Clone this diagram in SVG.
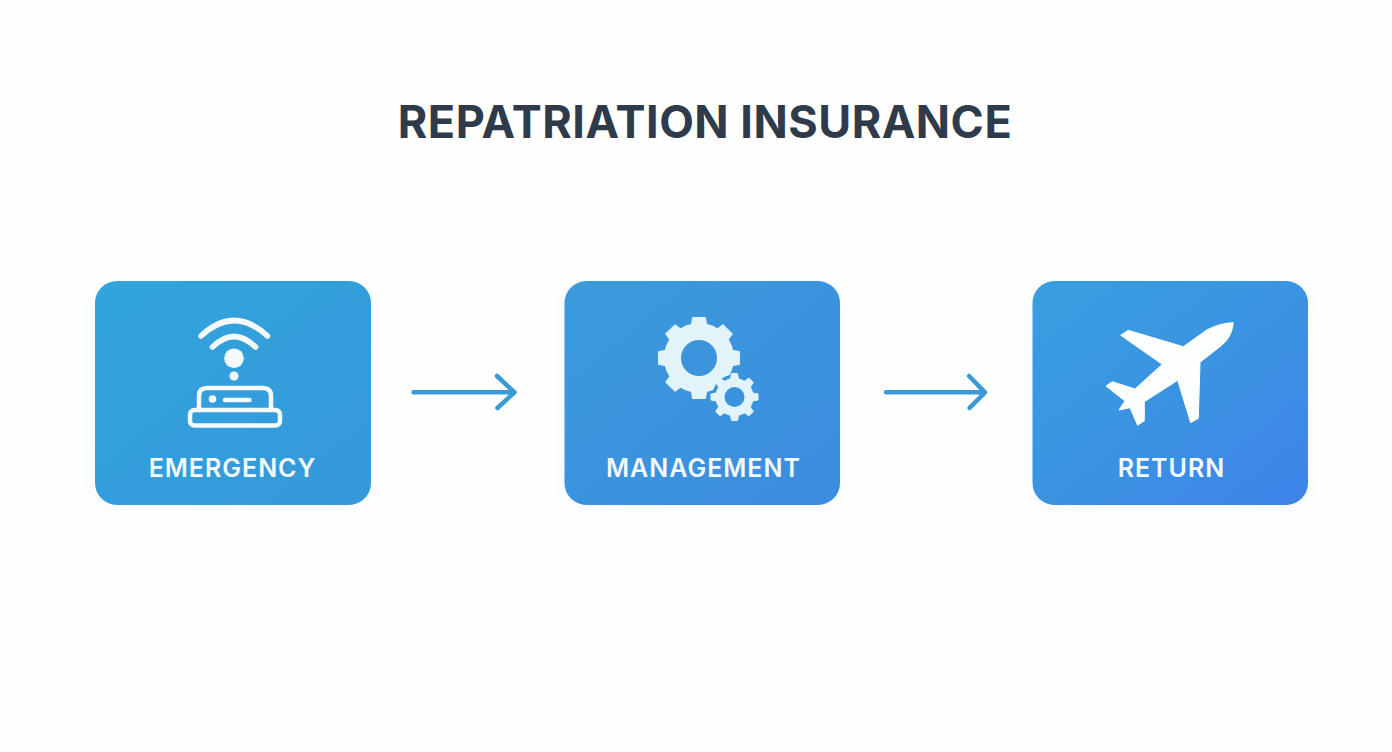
<svg xmlns="http://www.w3.org/2000/svg" width="1392" height="752" viewBox="0 0 1392 752">
<style>
.title{font-family:"Inter","Liberation Sans",sans-serif;font-size:45px;font-weight:700;letter-spacing:0.5px;fill:#2f3b4b;text-anchor:middle}
.label{font-family:"Inter","Liberation Sans",sans-serif;font-size:25px;font-weight:600;letter-spacing:1px;fill:#f4fafd;text-anchor:middle}
.card{filter:url(#soft)}
.line{fill:none;stroke:#f6f9fb;stroke-width:4.500;stroke-linecap:round;stroke-linejoin:round}
.wifi{fill:none;stroke:#f6f9fb;stroke-width:5.500;stroke-linecap:round}
.arrow{fill:none;stroke:#3a9ad6;stroke-width:4.500;stroke-linecap:round;stroke-linejoin:round}
.gear{fill:#e3f3fa;stroke:#e3f3fa;stroke-width:1;stroke-linejoin:round}
.ring{fill:none;stroke:#e3f3fa}
</style>
<defs>
<linearGradient id="fill1" x1="0" y1="0" x2="1" y2="1">
<stop offset="0" stop-color="#31a5dd"/><stop offset="1" stop-color="#3598da"/>
</linearGradient>
<linearGradient id="fill2" x1="0" y1="0" x2="1" y2="1">
<stop offset="0" stop-color="#3a9bdc"/><stop offset="1" stop-color="#3b8cdf"/>
</linearGradient>
<linearGradient id="fill3" x1="0" y1="0" x2="1" y2="1">
<stop offset="0" stop-color="#399fe0"/><stop offset="0.55" stop-color="#3a92e2"/><stop offset="1" stop-color="#3f83ea"/>
</linearGradient>
<filter id="soft" x="-10%" y="-10%" width="120%" height="120%">
<feDropShadow dx="0" dy="2" stdDeviation="6" flood-color="#3a96dd" flood-opacity="0.05"/>
</filter>
<polygon id="toothBig" points="691,328 692.500,317.500 705.500,317.500 707,328"/>
<polygon id="toothSmall" points="730.500,379 731.500,373.500 737.500,373.500 738.500,379"/>
</defs>
<rect width="1392" height="752" fill="#fefefe"/>
<text class="title" x="705" y="138">REPATRIATION INSURANCE</text>
<g id="connectors">
<path class="arrow" d="M413.500 392.300H514.500M497 376L514.500 392.300L497.500 408"/>
<path class="arrow" d="M886 392.300H985M969 376L985 392.300L969.500 408"/>
</g>
<g id="node-emergency">
<rect class="card" x="95" y="281" width="276" height="224" rx="22" fill="url(#fill1)"/>
<path class="wifi" d="M201 336Q234 305 267.500 336"/>
<path class="wifi" d="M212.500 347Q234 326 255.500 347"/>
<circle cx="234" cy="358.300" r="9.800" fill="#f6f9fb"/>
<circle cx="234" cy="376" r="4.500" fill="#f6f9fb"/>
<path class="line" d="M199 410V396Q199 388 207 388H263Q271 388 271 396V410"/>
<rect class="line" x="190" y="410" width="90" height="15.500" rx="4.500"/>
<circle cx="212.500" cy="399" r="3.800" fill="#f6f9fb"/>
<path class="line" d="M225 400H249.500"/>
<text class="label" x="232.500" y="476.500">EMERGENCY</text>
</g>
<g id="node-management">
<rect class="card" x="564.500" y="281" width="275.500" height="224" rx="22" fill="url(#fill2)"/>
<g class="gear">
<use href="#toothBig"/>
<use href="#toothBig" transform="rotate(45 699 358)"/>
<use href="#toothBig" transform="rotate(90 699 358)"/>
<use href="#toothBig" transform="rotate(135 699 358)"/>
<use href="#toothBig" transform="rotate(180 699 358)"/>
<use href="#toothBig" transform="rotate(225 699 358)"/>
<use href="#toothBig" transform="rotate(270 699 358)"/>
<use href="#toothBig" transform="rotate(315 699 358)"/>
</g>
<circle class="ring" cx="699" cy="358" r="26.500" stroke-width="17"/>
<circle cx="734.500" cy="397" r="22.500" fill="#3a93de"/>
<g class="gear">
<use href="#toothSmall"/>
<use href="#toothSmall" transform="rotate(45 734.500 397)"/>
<use href="#toothSmall" transform="rotate(90 734.500 397)"/>
<use href="#toothSmall" transform="rotate(135 734.500 397)"/>
<use href="#toothSmall" transform="rotate(180 734.500 397)"/>
<use href="#toothSmall" transform="rotate(225 734.500 397)"/>
<use href="#toothSmall" transform="rotate(270 734.500 397)"/>
<use href="#toothSmall" transform="rotate(315 734.500 397)"/>
</g>
<circle class="ring" cx="734.500" cy="397" r="14.500" stroke-width="9"/>
<text class="label" x="703.500" y="476.500">MANAGEMENT</text>
</g>
<g id="node-return">
<rect class="card" x="1032.500" y="281" width="275.500" height="224" rx="22" fill="url(#fill3)"/>
<path fill="#fdfefe" stroke="#fdfefe" stroke-width="1" stroke-linejoin="round" d="M1233.300 322.700Q1232 337 1221.500 345.500L1200 362.300L1198.300 418.300L1190.700 422.700L1177.700 380.300L1144.300 401.700L1144.300 420.700L1137.700 425.300L1130 407.700L1119 410L1125 401L1106 386L1112.300 381.700L1135 389L1162.300 364.300L1120.700 335.300L1128.300 330.300L1183.300 346.700L1206.700 330Q1220 323 1233.300 322.700Z"/>
<text class="label" x="1171.500" y="476.500">RETURN</text>
</g>
</svg>
